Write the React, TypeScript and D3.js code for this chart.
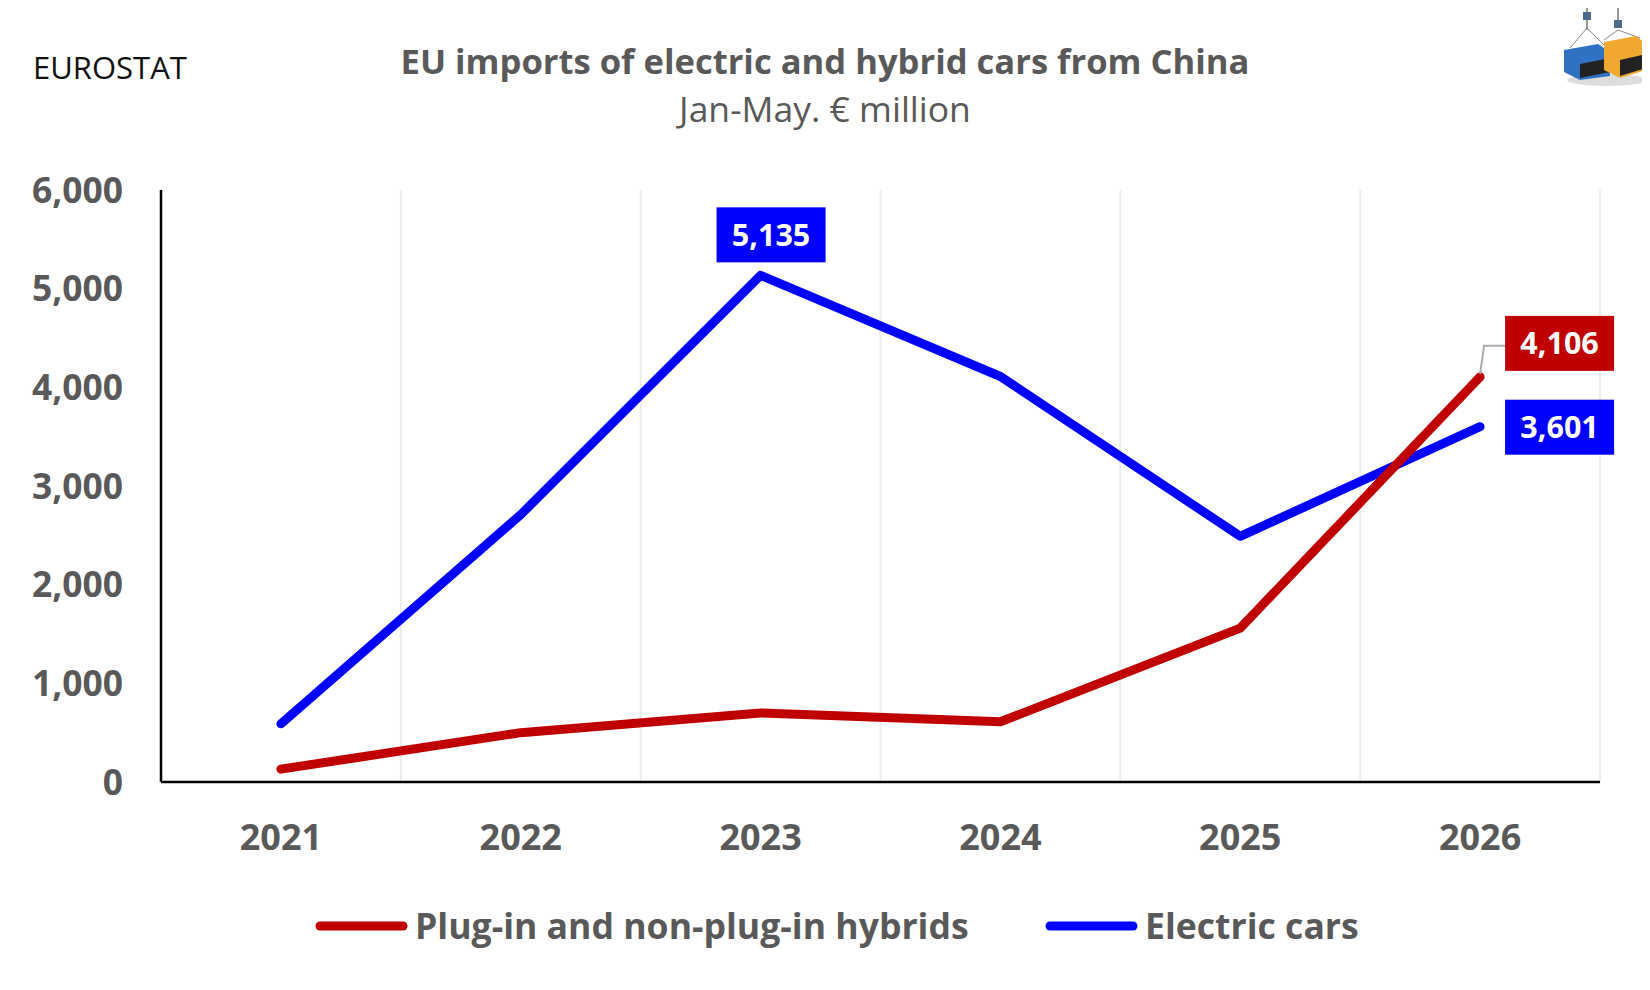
import { useRef, useEffect } from "react";
import * as d3 from "d3";

const years = ["2021", "2022", "2023", "2024", "2025", "2026"];
const hybrids = [130, 500, 700, 610, 1560, 4106];
const electric = [590, 2710, 5135, 4110, 2490, 3601];
const yTicks = [0, 1000, 2000, 3000, 4000, 5000, 6000];

const RED = "#c00000";
const BLUE = "#0000ff";
const GREY = "#595959";
const FONT = "'Open Sans', 'Noto Sans', sans-serif";

export default function App() {
  const svgRef = useRef<SVGSVGElement>(null);
  const width = 1650;
  const height = 990;

  useEffect(() => {
    if (!svgRef.current) return;
    const svg = d3.select(svgRef.current);
    svg.selectAll("*").remove();

    const margin = { top: 190, right: 50, bottom: 208, left: 161 };
    const innerWidth = width - margin.left - margin.right;
    const innerHeight = height - margin.top - margin.bottom;

    const x = d3.scaleBand<string>().domain(years).range([margin.left, margin.left + innerWidth]);
    const y = d3.scaleLinear().domain([0, 6000]).range([margin.top + innerHeight, margin.top]);
    const cx = (d: string) => x(d)! + x.bandwidth() / 2;
    const fmt = d3.format(",");

    // Titles
    svg.append("text")
      .attr("x", 33).attr("y", 79)
      .attr("font-family", FONT).attr("font-size", 31).attr("fill", "#111")
      .text("EUROSTAT");
    svg.append("text")
      .attr("x", 825).attr("y", 74).attr("text-anchor", "middle")
      .attr("font-family", FONT).attr("font-weight", 700).attr("font-size", 34.6).attr("fill", GREY)
      .text("EU imports of electric and hybrid cars from China");
    svg.append("text")
      .attr("x", 825).attr("y", 122).attr("text-anchor", "middle")
      .attr("font-family", FONT).attr("font-size", 35.5).attr("fill", GREY)
      .text("Jan-May. € million");

    // Vertical gridlines at band edges
    svg.append("g")
      .selectAll("line")
      .data(years)
      .join("line")
      .attr("x1", (d) => x(d)! + x.bandwidth())
      .attr("x2", (d) => x(d)! + x.bandwidth())
      .attr("y1", y(6000)).attr("y2", y(0))
      .attr("stroke", "#ececec").attr("stroke-width", 2);

    // Axes
    svg.append("line")
      .attr("x1", margin.left).attr("x2", margin.left)
      .attr("y1", y(6000)).attr("y2", y(0))
      .attr("stroke", "#000").attr("stroke-width", 2.5);
    svg.append("line")
      .attr("x1", margin.left).attr("x2", margin.left + innerWidth)
      .attr("y1", y(0)).attr("y2", y(0))
      .attr("stroke", "#000").attr("stroke-width", 2.5);

    svg.append("g")
      .selectAll("text")
      .data(yTicks)
      .join("text")
      .attr("x", 123).attr("y", (d) => y(d))
      .attr("dy", "0.36em").attr("text-anchor", "end")
      .attr("font-family", FONT).attr("font-weight", 700).attr("font-size", 35.4).attr("fill", GREY)
      .text((d) => fmt(d));

    svg.append("g")
      .selectAll("text")
      .data(years)
      .join("text")
      .attr("x", cx).attr("y", 850)
      .attr("text-anchor", "middle")
      .attr("font-family", FONT).attr("font-weight", 700).attr("font-size", 36).attr("fill", GREY)
      .text((d) => d);

    // Lines
    const line = d3.line<number>()
      .x((_, i) => cx(years[i]))
      .y((d) => y(d));
    svg.append("path").datum(electric).attr("d", line)
      .attr("fill", "none").attr("stroke", BLUE).attr("stroke-width", 9)
      .attr("stroke-linecap", "round").attr("stroke-linejoin", "round");
    svg.append("path").datum(hybrids).attr("d", line)
      .attr("fill", "none").attr("stroke", RED).attr("stroke-width", 9)
      .attr("stroke-linecap", "round").attr("stroke-linejoin", "round");

    // Data labels
    const label = (px: number, py: number, value: number, color: string) => {
      const w = 109, h = 55;
      svg.append("rect").attr("x", px).attr("y", py).attr("width", w).attr("height", h).attr("fill", color);
      svg.append("text")
        .attr("x", px + w / 2).attr("y", py + h / 2).attr("dy", "0.36em")
        .attr("text-anchor", "middle")
        .attr("font-family", FONT).attr("font-weight", 700).attr("font-size", 30.5).attr("fill", "#fff")
        .text(fmt(value));
    };
    const peak = 2;
    label(cx(years[peak]) - 44, y(electric[peak]) - 68, electric[peak], BLUE);
    const last = years.length - 1;
    const lx = cx(years[last]);
    svg.append("path")
      .attr("d", `M${lx},${y(hybrids[last]) - 3} L${lx + 4},${y(hybrids[last]) - 31} L${lx + 25},${y(hybrids[last]) - 31}`)
      .attr("fill", "none").attr("stroke", "#aaa").attr("stroke-width", 2);
    label(lx + 25, y(hybrids[last]) - 61, hybrids[last], RED);
    label(lx + 25, y(electric[last]) - 27, electric[last], BLUE);

    // Legend
    const legend = [
      { name: "Plug-in and non-plug-in hybrids", color: RED, x0: 316 },
      { name: "Electric cars", color: BLUE, x0: 1046 },
    ];
    const lg = svg.append("g");
    legend.forEach((d) => {
      lg.append("line")
        .attr("x1", d.x0 + 4).attr("x2", d.x0 + 87).attr("y1", 926).attr("y2", 926)
        .attr("stroke", d.color).attr("stroke-width", 9).attr("stroke-linecap", "round");
      lg.append("text")
        .attr("x", d.x0 + 99).attr("y", 926).attr("dy", "0.36em")
        .attr("font-family", FONT).attr("font-weight", 700).attr("font-size", 35.6).attr("fill", GREY)
        .text(d.name);
    });

    // Logo: two hanging containers
    const logo = svg.append("g");
    logo.append("ellipse").attr("cx", 1607).attr("cy", 80).attr("rx", 40).attr("ry", 6).attr("fill", "#ddd");
    logo.append("line").attr("x1", 1587).attr("x2", 1587).attr("y1", 8).attr("y2", 30).attr("stroke", "#999").attr("stroke-width", 2);
    logo.append("line").attr("x1", 1618).attr("x2", 1618).attr("y1", 5).attr("y2", 24).attr("stroke", "#999").attr("stroke-width", 2);
    logo.append("rect").attr("x", 1583).attr("y", 12).attr("width", 8).attr("height", 8).attr("fill", "#4a6a8a");
    logo.append("rect").attr("x", 1614).attr("y", 20).attr("width", 8).attr("height", 8).attr("fill", "#4a6a8a");
    logo.append("path").attr("d", "M1587,28 L1570,48 M1587,28 L1605,46").attr("stroke", "#888").attr("fill", "none");
    logo.append("path").attr("d", "M1618,30 L1604,40 M1618,30 L1640,38").attr("stroke", "#888").attr("fill", "none");
    logo.append("path").attr("d", "M1564,50 L1598,44 L1610,52 L1610,76 L1580,80 L1564,72 Z").attr("fill", "#2f72c4");
    logo.append("path").attr("d", "M1580,64 L1610,58 L1610,72 L1580,78 Z").attr("fill", "#222");
    logo.append("path").attr("d", "M1604,42 L1636,36 L1646,44 L1646,70 L1620,78 L1604,70 Z").attr("fill", "#f0a830");
    logo.append("path").attr("d", "M1620,60 L1646,54 L1646,68 L1620,76 Z").attr("fill", "#222");
  }, []);

  return <svg ref={svgRef} width={width} height={height} style={{ display: "block", margin: -8 }} />;
}
